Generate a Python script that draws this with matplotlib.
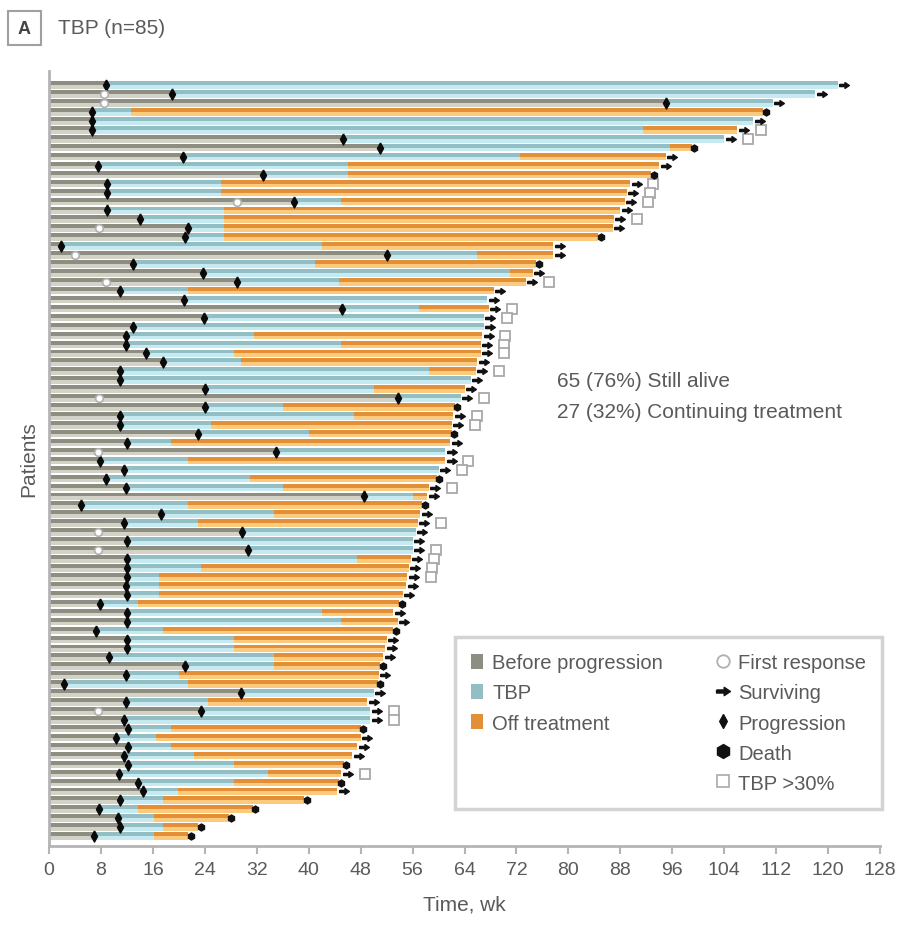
import numpy as np
import matplotlib
matplotlib.use("Agg")
import matplotlib.pyplot as plt
from matplotlib.lines import Line2D
from matplotlib.patches import Patch, Rectangle

plt.rcParams['font.family'] = ['Liberation Sans', 'DejaVu Sans']

# ---- data (weeks), one entry per patient, top to bottom ----
progression = [8.8, 19, 95, 6.6, 6.6, 6.6, 45.3, 51, 20.6, 7.5,
               33, 9, 9, 37.7, 9, 14, 21.4, 21, 1.8, 52,
               13, 23.7, 29, 11, 20.8, 45.2, 23.8, 13, 11.9, 11.9,
               15, 17.5, 11, 11, 24, 53.7, 24, 11, 11, 23,
               12, 35, 7.9, 11.5, 8.8, 11.8, 48.5, 5, 17.2, 11.5,
               29.8, 12, 30.6, 12, 12, 12, 11.8, 12, 7.9, 12,
               12, 7.2, 12, 12, 9.3, 21, 11.8, 2.3, 29.5, 11.8,
               23.4, 11.5, 12.2, 10.3, 12.2, 11.6, 12.2, 10.8, 13.7, 14.5,
               11, 7.7, 10.6, 11, 6.9]
tbp_end = [121.5, 118, 111.5, 12.6, 108.5, 91.5, 104, 95.7, 72.6, 46,
           46, 26.5, 26.5, 45, 27, 27, 27, 27, 42, 66,
           41, 71, 44.6, 21.4, 67.5, 57, 67, 67, 31.6, 45,
           28.5, 29.5, 58.5, 65, 50, 63.4, 36, 47, 25, 40,
           18.8, 61, 21.4, 60, 31, 36, 56, 21.4, 34.6, 23,
           56.5, 56, 56, 47.5, 23.4, 17, 17, 17, 13.7, 42,
           45, 17.5, 28.5, 28.5, 34.6, 34.6, 20, 21.4, 50, 24.5,
           49.5, 49.5, 18.8, 16.5, 18.8, 22.3, 28.5, 33.7, 28.5, 19.8,
           17.5, 13.7, 16.2, 17.5, 16.2]
total = [121.5, 118, 111.5, 110, 108.5, 106, 104, 99, 95, 94,
         92.8, 89.5, 89, 88.7, 88, 87, 86.8, 84.6, 77.7, 77.7,
         75, 74.5, 73.4, 68.5, 67.5, 67.7, 67, 67, 66.7, 66.5,
         66.5, 66, 65.7, 65, 64, 63.4, 62.5, 62.3, 62, 62,
         61.8, 61, 61, 60, 59.7, 58.5, 58.3, 57.5, 57.2, 56.8,
         56.5, 56, 56, 55.7, 55.4, 55.2, 55, 54.5, 53.9, 53,
         53.7, 53, 52, 51.8, 51.5, 51, 50.8, 50.6, 50, 49,
         49.5, 49.5, 48, 48, 47.5, 46.7, 45.4, 45, 44.6, 44.4,
         39.3, 31.4, 27.7, 23, 21.4]
first_response = [np.nan, 8.5, 8.5, np.nan, np.nan, np.nan, np.nan, np.nan, np.nan, np.nan,
                  np.nan, np.nan, np.nan, 29, np.nan, np.nan, 7.7, np.nan, np.nan, 4,
                  np.nan, np.nan, 8.8, np.nan, np.nan, np.nan, np.nan, np.nan, np.nan, np.nan,
                  np.nan, np.nan, np.nan, np.nan, np.nan, 7.7, np.nan, np.nan, np.nan, np.nan,
                  np.nan, 7.5, np.nan, np.nan, np.nan, np.nan, np.nan, np.nan, np.nan, np.nan,
                  7.5, np.nan, 7.5, np.nan, np.nan, np.nan, np.nan, np.nan, np.nan, np.nan,
                  np.nan, np.nan, np.nan, np.nan, np.nan, np.nan, np.nan, np.nan, np.nan, np.nan,
                  7.5, np.nan, np.nan, np.nan, np.nan, np.nan, np.nan, np.nan, np.nan, np.nan,
                  np.nan, np.nan, np.nan, np.nan, np.nan]
died = [0, 0, 0, 1, 0, 0, 0, 1, 0, 0,
        1, 0, 0, 0, 0, 0, 0, 1, 0, 0,
        1, 0, 0, 0, 0, 0, 0, 0, 0, 0,
        0, 0, 0, 0, 0, 0, 1, 0, 0, 1,
        0, 0, 0, 0, 1, 0, 0, 1, 0, 0,
        0, 0, 0, 0, 0, 0, 0, 0, 1, 0,
        0, 1, 0, 0, 0, 1, 0, 1, 0, 0,
        0, 0, 1, 0, 0, 0, 1, 0, 1, 0,
        1, 1, 1, 1, 1]
tbp_over30 = [0, 0, 0, 0, 0, 1, 1, 0, 0, 0,
              0, 1, 1, 1, 0, 1, 0, 0, 0, 0,
              0, 0, 1, 0, 0, 1, 1, 0, 1, 1,
              1, 0, 1, 0, 0, 1, 0, 1, 1, 0,
              0, 0, 1, 1, 0, 1, 0, 0, 0, 1,
              0, 0, 1, 1, 1, 1, 0, 0, 0, 0,
              0, 0, 0, 0, 0, 0, 0, 0, 0, 0,
              1, 1, 0, 0, 0, 0, 0, 1, 0, 0,
              0, 0, 0, 0, 0]

progression = np.array(progression, float)
tbp_end = np.array(tbp_end, float)
total = np.array(total, float)
first_response = np.array(first_response, float)
died = np.array(died, bool)
tbp_over30 = np.array(tbp_over30, bool)
rows = np.arange(len(total))

# ---- style ----
GRAY_D, GRAY_L = '#8d8d81', '#d2d2c6'
TEAL_D, TEAL_L = '#93bec4', '#c6eaf1'
ORNG_D, ORNG_L = '#e38f38', '#fbca7c'
TXT = '#5a5a5a'
SPINE = '#b4b4b4'

fig = plt.figure(figsize=(8.99, 9.29), dpi=100)
ax = fig.add_axes([49/899, 1-847/929, (880-49)/899, (847-72)/929])

def seg(left, right, cd, cl):
    w = right - left
    ax.barh(rows - 0.22, w, left=left, height=0.44, color=cd, linewidth=0)
    ax.barh(rows + 0.2, w, left=left, height=0.4, color=cl, linewidth=0)

seg(np.zeros_like(total), progression, GRAY_D, GRAY_L)
seg(progression, tbp_end, TEAL_D, TEAL_L)
seg(tbp_end, total, ORNG_D, ORNG_L)

diamond = [(0, 1), (0.55, 0), (0, -1), (-0.55, 0), (0, 1)]
arrow = [(-1, 0.22), (0.1, 0.22), (0.1, 0.6), (1, 0), (0.1, -0.6), (0.1, -0.22), (-1, -0.22), (-1, 0.22)]

ax.plot(progression, rows, linestyle='none', marker=diamond, markersize=8,
        color='#0a0a0a', zorder=5)
ax.plot(first_response, rows, linestyle='none', marker='o', markersize=5.5,
        markerfacecolor='white', markeredgecolor='#b0b0b0', markeredgewidth=1.2, zorder=5)
ax.plot(total[~died] + 1.0, rows[~died], linestyle='none', marker=arrow, markersize=7,
        color='#111111', zorder=5)
ax.plot(total[died] + 0.4, rows[died], linestyle='none', marker='h', markersize=5,
        color='#111111', zorder=5)
ax.plot(total[tbp_over30] + 3.6, rows[tbp_over30], linestyle='none', marker='s', markersize=6.5,
        markerfacecolor='white', markeredgecolor='#a8a8a8', markeredgewidth=1.3, zorder=4)

ax.set_xlim(0, 128)
ax.set_ylim(85.1, -1.6)
ax.set_xticks(np.arange(0, 129, 8))
ax.set_yticks([])
ax.tick_params(axis='x', colors=SPINE, labelcolor=TXT, labelsize=14, length=6, width=1.5, pad=5)
for s in ['top', 'right']:
    ax.spines[s].set_visible(False)
for s in ['left', 'bottom']:
    ax.spines[s].set_color(SPINE)
    ax.spines[s].set_linewidth(2)
ax.set_xlabel('Time, wk', fontsize=15, color=TXT, labelpad=12)
ax.set_ylabel('Patients', fontsize=15, color=TXT, labelpad=8)

ax.text(0.611, 0.601, '65 (76%) Still alive', transform=ax.transAxes, fontsize=15,
        color=TXT, va='center')
ax.text(0.611, 0.561, '27 (32%) Continuing treatment', transform=ax.transAxes, fontsize=15,
        color=TXT, va='center')

blank = Patch(facecolor='none', edgecolor='none')
handles = [Patch(facecolor=GRAY_D), Patch(facecolor=TEAL_D), Patch(facecolor=ORNG_D), blank, blank,
           Line2D([], [], linestyle='none', marker='o', markersize=9, markerfacecolor='white',
                  markeredgecolor='#b0b0b0', markeredgewidth=1.3),
           Line2D([], [], linestyle='none', marker=arrow, markersize=10, color='#111111'),
           Line2D([], [], linestyle='none', marker=diamond, markersize=10, color='#111111'),
           Line2D([], [], linestyle='none', marker='h', markersize=10, color='#111111'),
           Line2D([], [], linestyle='none', marker='s', markersize=9, markerfacecolor='white',
                  markeredgecolor='#b0b0b0', markeredgewidth=1.3)]
labels = ['Before progression', 'TBP', 'Off treatment', '', '',
          'First response', 'Surviving', 'Progression', 'Death', 'TBP >30%']
leg = ax.legend(handles, labels, ncol=2, loc='lower right', bbox_to_anchor=(1.003, 0.048),
                borderaxespad=0, fontsize=14.5, frameon=True, fancybox=False,
                handlelength=0.6, handleheight=0.8, handletextpad=0.45, columnspacing=2.7,
                labelspacing=0.55, borderpad=0.8, labelcolor=TXT)
leg.get_frame().set_edgecolor('#c8c8c8')
leg.get_frame().set_linewidth(2.5)

# panel label
fig.patches.append(Rectangle((8/899, 1-46/929), 33/899, 34/929, transform=fig.transFigure,
                             facecolor='white', edgecolor='#a0a0a0', linewidth=1.5))
fig.text(24/899, 1-29/929, 'A', fontsize=13, color='#444444', fontweight='bold',
         ha='center', va='center')
fig.text(58/899, 1-29/929, 'TBP (n=85)', fontsize=15, color=TXT, ha='left', va='center')

fig.savefig('out.png', dpi=100, facecolor='white')
